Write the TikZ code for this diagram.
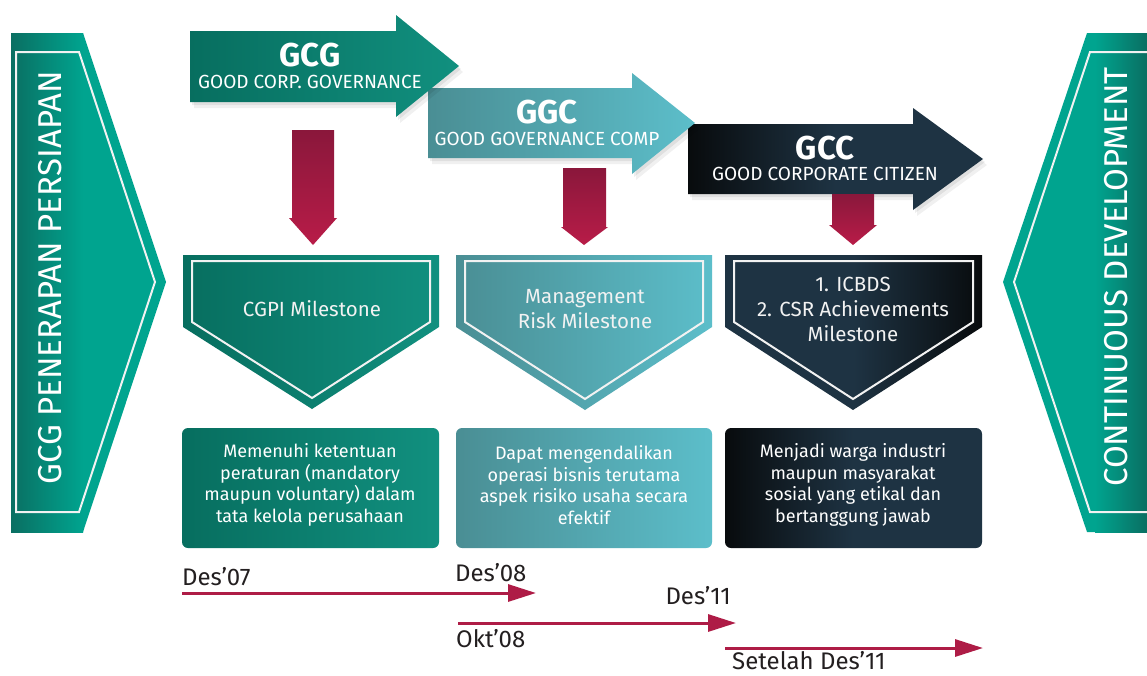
\documentclass[tikz,border=0pt]{standalone}
\usepackage{fontspec}
\setmainfont{Fira Sans}
\usetikzlibrary{arrows.meta}
\definecolor{bteal}{HTML}{00A48F}
\definecolor{bdark}{HTML}{0A6F62}
\definecolor{gcgL}{HTML}{076E5F}
\definecolor{gcgR}{HTML}{11907F}
\definecolor{ggcL}{HTML}{4A8E94}
\definecolor{ggcR}{HTML}{5CBECA}
\definecolor{navy}{HTML}{1E3343}
\definecolor{blk}{HTML}{080B0D}
\definecolor{crimT}{HTML}{8A173B}
\definecolor{crimB}{HTML}{B81C48}
\definecolor{tline}{HTML}{AE1C46}
\definecolor{ttext}{HTML}{231F20}
\definecolor{wl}{HTML}{F2F2F2}
\tikzset{
  wline/.style={draw=wl, line width=2pt},
  bannertext/.style={text=white, font=\fontsize{33}{36}\selectfont},
  ttl/.style={text=white, font=\fontsize{33}{36}\selectfont\bfseries},
  sub/.style={text=white, font=\fontsize{19}{22}\selectfont},
  mile/.style={text=wl, align=center, font=\fontsize{20.5}{25}\selectfont},
  boxt/.style={text=white, align=center, font=\fontsize{18}{21.7}\selectfont},
  ttime/.style={text=ttext, font=\fontsize{24}{27}\selectfont, anchor=west, inner sep=0pt},
  tarrow/.style={draw=tline, line width=3pt, -{Triangle[length=28pt,width=17pt]}},
  shad/.style={preaction={fill=black, fill opacity=0.07, transform canvas={shift={(2pt,-3pt)}}},
               preaction={fill=black, fill opacity=0.06, transform canvas={shift={(4pt,-6pt)}}}},
}
\begin{document}
\begin{tikzpicture}[x=1pt,y=-1pt]
\useasboundingbox (0,0) rectangle (1147,675);
\fill[white] (0,0) rectangle (1147,675);

% left banner
\fill[bteal] (11,33) -- (83,33) -- (166,282) -- (83,532) -- (11,532) -- cycle;
\shade[left color=bdark, right color=bteal] (11,33) rectangle (83,532);
\draw[wline] (16,52) -- (79,52) -- (155,282) -- (79,512) -- (16,512) -- cycle;
\node[rotate=90, bannertext] (lbanner) at (50,278) {GCG PENERAPAN PERSIAPAN};

% right banner
\fill[bteal] (1147,33) -- (1087,33) -- (1003,282) -- (1087,532) -- (1147,532) -- cycle;
\shade[left color=bteal, right color=bdark] (1095,33) rectangle (1147,532);
\draw[wline] (1148,52) -- (1090,52) -- (1014,282) -- (1090,512) -- (1148,512);
\node[rotate=90, bannertext] (rbanner) at (1116,277) {CONTINUOUS DEVELOPMENT};

% top arrows (GCC first, GCG last)
\shade[shad, left color=blk, right color=navy, middle color=navy]
  (688,124) -- (913,124) -- (913,108) -- (983,159) -- (913,210) -- (913,194) -- (688,194) -- cycle;
\node[ttl] (gcc) at (825,148) {GCC};
\node[sub] (gccsub) at (825,174) {GOOD CORPORATE CITIZEN};

\shade[shad, left color=ggcL, right color=ggcR]
  (428,88) -- (632,88) -- (632,73) -- (695,123) -- (632,174) -- (632,158) -- (428,158) -- cycle;
\node[ttl] (ggc) at (547,112) {GGC};
\node[sub] (ggcsub) at (547,139) {GOOD GOVERNANCE COMP};

\shade[shad, left color=gcgL, right color=gcgR]
  (190,31) -- (396,31) -- (396,15) -- (459,66) -- (396,117) -- (396,102) -- (190,102) -- cycle;
\node[ttl] (gcg) at (310,55) {GCG};
\node[sub] (gcgsub) at (310,82) {GOOD CORP. GOVERNANCE};

% down arrows
\shade[top color=crimT, bottom color=crimB]
  (292,130) -- (334,130) -- (334,218) -- (337,218) -- (313,245) -- (289,218) -- (292,218) -- cycle;
\shade[top color=crimT, bottom color=crimB]
  (563,168) -- (606,168) -- (606,227) -- (608,227) -- (584,245) -- (561,227) -- (563,227) -- cycle;
\shade[top color=crimT, bottom color=crimB]
  (832,194) -- (874,194) -- (874,225) -- (877,225) -- (853,245) -- (829,225) -- (832,225) -- cycle;

% milestones
\shade[left color=gcgL, right color=gcgR]
  (183,255) -- (439,255) -- (439,327) -- (312,409) -- (183,327) -- cycle;
\draw[wline] (192,261) -- (430,261) -- (430,322) -- (312,398) -- (192,322) -- cycle;
\node[mile] (m1) at (312,309) {CGPI Milestone};

\shade[left color=ggcL, right color=ggcR]
  (456,255) -- (712,255) -- (712,327) -- (585,410) -- (456,327) -- cycle;
\draw[wline] (465,261) -- (703,261) -- (703,322) -- (585,399) -- (465,322) -- cycle;
\node[mile] (m2) at (585,309) {Management\\Risk Milestone};

\shade[left color=navy, right color=blk, middle color=navy]
  (725,255) -- (982,255) -- (982,327) -- (853,410) -- (725,327) -- cycle;
\draw[wline] (734,261) -- (973,261) -- (973,322) -- (853,399) -- (734,322) -- cycle;
\node[mile] (m3) at (853,309) {1. ICBDS\\2. CSR Achievements\\Milestone};

% description boxes
\shade[rounded corners=6pt, left color=gcgL, right color=gcgR] (182,428) rectangle (439,548);
\node[boxt] (b1) at (310,485) {Memenuhi ketentuan\\peraturan (mandatory\\maupun voluntary) dalam\\tata kelola perusahaan};
\shade[rounded corners=6pt, left color=ggcL, right color=ggcR] (456,428) rectangle (712,548);
\node[boxt] (b2) at (584,485) {Dapat mengendalikan\\operasi bisnis terutama\\aspek risiko usaha secara\\efektif};
\shade[rounded corners=6pt, left color=blk, right color=navy, middle color=navy] (725,428) rectangle (982,548);
\node[boxt] (b3) at (853,485) {Menjadi warga industri\\maupun masyarakat\\sosial yang etikal dan\\bertanggung jawab};

% timeline
\node[ttime] (d07) at (182,577) {Des’07};
\node[ttime] (d08) at (455,573) {Des’08};
\node[ttext, font=\fontsize{24}{27}\selectfont, anchor=east, inner sep=0pt] (d11) at (731,596) {Des’11};
\node[ttime] (o08) at (456,639) {Okt’08};
\node[ttime] (sd11) at (732,661) {Setelah Des’11};
\coordinate (a1s) at (182,593);
\coordinate (a1e) at (536,593);
\coordinate (a2s) at (458,623);
\coordinate (a2e) at (736,623);
\coordinate (a3s) at (725,648);
\coordinate (a3e) at (983,648);
\draw[tarrow] (a1s) -- (a1e);
\draw[tarrow] (a2s) -- (a2e);
\draw[tarrow] (a3s) -- (a3e);
\end{tikzpicture}
\end{document}
